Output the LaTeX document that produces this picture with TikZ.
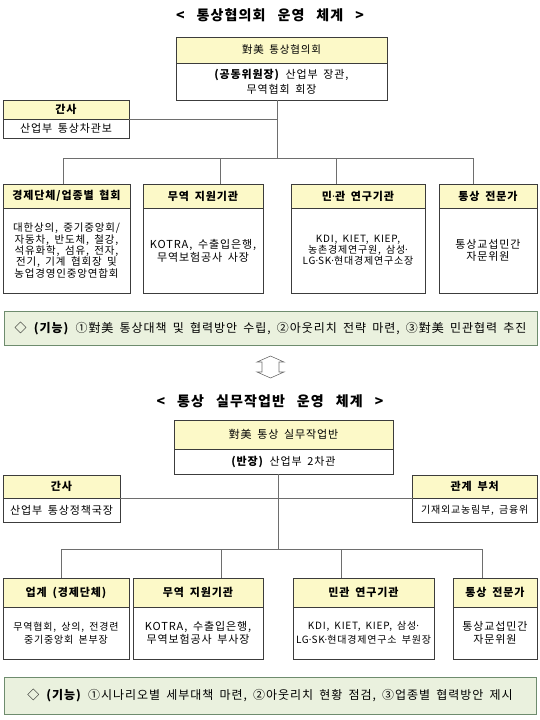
\documentclass[tikz,border=0pt]{standalone}
\usepackage{fontspec}
\setmainfont{Noto Sans CJK KR}[LetterSpace=8, WordSpace=1.7]
\newfontfamily\latinfont{Noto Sans}
\newcommand{\mdot}{{\latinfont ·}}
\newcommand{\tsp}{\hspace{12pt}}
\definecolor{hdrfill}{RGB}{252,249,200}
\definecolor{boxline}{RGB}{60,60,60}
\definecolor{connc}{RGB}{110,110,110}
\definecolor{greenfill}{RGB}{234,241,222}
\definecolor{greenline}{RGB}{110,140,110}
\tikzset{
  box/.style={draw=boxline, line width=0.8pt, inner sep=0pt, outer sep=0pt, anchor=north west, align=center},
  hdrbox/.style={box, fill=hdrfill, font=\fontsize{11}{12}\selectfont\bfseries},
  bodybox/.style={box, fill=white, font=\fontsize{11}{11.5}\selectfont},
  conn/.style={draw=connc, line width=0.8pt},
  funcbox/.style={box, fill=greenfill, draw=greenline, font=\fontsize{12}{13}\selectfont},
  ttl/.style={font=\fontsize{14}{15}\selectfont\bfseries, inner sep=0pt}
}
\begin{document}
\begin{tikzpicture}[x=1pt,y=-1pt]
\useasboundingbox (0,0) rectangle (540,720);
% ---------- chart 1 ----------
\node[ttl] (t1) at (270,15) {<\tsp 통상협의회\tsp 운영\tsp 체계\tsp >};
\node[hdrbox, font=\fontsize{10.5}{11}\selectfont, minimum width=211, minimum height=26] (topH) at (176,37) {對美 통상협의회};
\node[bodybox, font=\fontsize{11}{15}\selectfont, minimum width=211, minimum height=37] (topB) at (176,63) {\textbf{(공동위원장)} 산업부 장관,\\무역협회 회장};
\node[hdrbox, minimum width=126, minimum height=19] (gsH) at (3,100) {간사};
\node[bodybox, minimum width=126, minimum height=19] (gsB) at (3,119) {산업부 통상차관보};

\node[hdrbox, minimum width=127, minimum height=24] (b1H) at (3,184) {경제단체/업종별 협회};
\node[bodybox, font=\fontsize{10.5}{11.4}\selectfont, minimum width=127, minimum height=85] (b1B) at (3,208) {대한상의, 중기중앙회/\\자동차, 반도체, 철강,\\석유화학, 섬유, 전자,\\전기, 기계 협회장 및\\농업경영인중앙연합회};
\node[hdrbox, minimum width=120, minimum height=24] (b2H) at (143,184) {무역 지원기관};
\node[bodybox, font=\fontsize{11}{13.3}\selectfont, minimum width=120, minimum height=85] (b2B) at (143,208) {KOTRA, 수출입은행,\\무역보험공사 사장};
\node[hdrbox, minimum width=134, minimum height=24] (b3H) at (291,184) {민\mdot 관 연구기관};
\node[bodybox, font=\fontsize{10}{11.2}\selectfont, minimum width=134, minimum height=85] (b3B) at (291,208) {KDI, KIET, KIEP,\\농촌경제연구원, 삼성\mdot\\LG\mdot SK\mdot 현대경제연구소장};
\node[hdrbox, minimum width=98, minimum height=24] (b4H) at (439,184) {통상 전문가};
\node[bodybox, minimum width=98, minimum height=85] (b4B) at (439,208) {통상교섭민간\\자문위원};

\coordinate (j1) at (277,158);
\coordinate (d1) at (63,158);
\coordinate (d2) at (220,158);
\coordinate (d3) at (336,158);
\coordinate (d4) at (473,158);
\draw[conn] (topB.south -| j1) -- (j1);
\draw[conn] (gsB.north east) -- (gsB.north east -| j1);
\draw[conn] (d1) -- (d4);
\draw[conn] (d1) -- (d1 |- b1H.north);
\draw[conn] (d2) -- (d2 |- b2H.north);
\draw[conn] (d3) -- (d3 |- b3H.north);
\draw[conn] (d4) -- (d4 |- b4H.north);

\node[funcbox, minimum width=533, minimum height=34.5] (f1) at (4,311) {◇ \textbf{(기능)} ①對美 통상대책 및 협력방안 수립, ②아웃리치 전략 마련, ③對美 민관협력 추진};

% double arrow
\draw[connc, line width=0.6pt] (270.5,356) -- (284,362) -- (279,362) -- (279,372) -- (284,372) -- (270.5,378) -- (257,372) -- (262,372) -- (262,362) -- (257,362) -- cycle;

% ---------- chart 2 ----------
\node[ttl] (t2) at (270,401.6) {<\tsp 통상\tsp 실무작업반\tsp 운영\tsp 체계\tsp >};
\node[hdrbox, font=\fontsize{11}{11}\selectfont, minimum width=219, minimum height=28.5] (top2H) at (174,420.5) {對美 통상 실무작업반};
\node[bodybox, font=\fontsize{11}{13}\selectfont, minimum width=219, minimum height=25] (top2B) at (174,449) {\textbf{(반장)} 산업부 2차관};
\node[hdrbox, minimum width=117, minimum height=22.4] (gs2H) at (3,475.6) {간사};
\node[bodybox, minimum width=117, minimum height=24] (gs2B) at (3,498) {산업부 통상정책국장};
\node[hdrbox, minimum width=124.5, minimum height=22.4] (relH) at (412.5,475.6) {관계 부처};
\node[bodybox, font=\fontsize{10}{11}\selectfont, minimum width=124.5, minimum height=24] (relB) at (412.5,498) {기재외교농림부, 금융위};

\node[hdrbox, minimum width=126, minimum height=29] (c1H) at (3,578) {업계 (경제단체)};
\node[bodybox, font=\fontsize{10}{13.5}\selectfont, minimum width=126, minimum height=52] (c1B) at (3,607) {무역협회, 상의, 전경련\\중기중앙회 본부장};
\node[hdrbox, minimum width=130, minimum height=29] (c2H) at (133,578) {무역 지원기관};
\node[bodybox, font=\fontsize{11}{13.5}\selectfont, minimum width=130, minimum height=52] (c2B) at (133,607) {KOTRA, 수출입은행,\\무역보험공사 부사장};
\node[hdrbox, minimum width=141, minimum height=29] (c3H) at (293,578) {민관 연구기관};
\node[bodybox, font=\fontsize{10}{13.5}\selectfont, minimum width=141, minimum height=52] (c3B) at (293,607) {KDI, KIET, KIEP, 삼성\mdot\\LG\mdot SK\mdot 현대경제연구소 부원장};
\node[hdrbox, minimum width=84, minimum height=29] (c4H) at (453,578) {통상 전문가};
\node[bodybox, font=\fontsize{11}{13.5}\selectfont, minimum width=84, minimum height=52] (c4B) at (453,607) {통상교섭민간\\자문위원};

\coordinate (j2) at (278,549);
\coordinate (e1) at (61,549);
\coordinate (e2) at (221,549);
\coordinate (e3) at (341,549);
\coordinate (e4) at (482,549);
\draw[conn] (top2B.south -| j2) -- (j2);
\draw[conn] (gs2B.north east) -- (relB.north west);
\draw[conn] (e1) -- (e4);
\draw[conn] (e1) -- (e1 |- c1H.north);
\draw[conn] (e2) -- (e2 |- c2H.north);
\draw[conn] (e3) -- (e3 |- c3H.north);
\draw[conn] (e4) -- (e4 |- c4H.north);

\node[funcbox, minimum width=532, minimum height=36.4] (f2) at (4,677.6) {◇ \textbf{(기능)} ①시나리오별 세부대책 마련, ②아웃리치 현황 점검, ③업종별 협력방안 제시};
\end{tikzpicture}
\end{document}
